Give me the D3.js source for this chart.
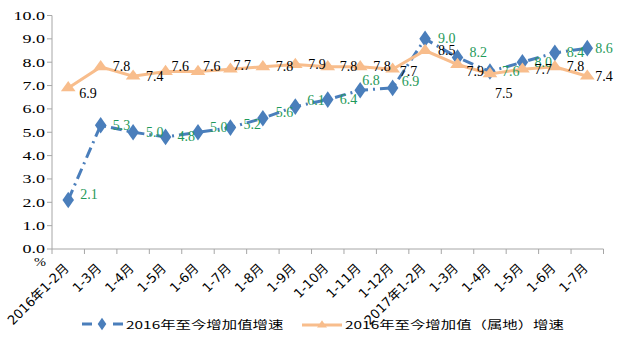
<!DOCTYPE html>
<html><head><meta charset="utf-8">
<script src="https://cdn.jsdelivr.net/npm/d3@7/dist/d3.min.js"></script>
<style>body{margin:0;background:#fff}svg{display:block}</style>
</head><body>
<svg id="c" width="618" height="348"></svg>
<script>
const categories = ["2016年1-2月","1-3月","1-4月","1-5月","1-6月","1-7月","1-8月","1-9月","1-10月","1-11月","1-12月","2017年1-2月","1-3月","1-4月","1-5月","1-6月","1-7月"];
const growth = [2.1,5.3,5.0,4.8,5.0,5.2,5.6,6.1,6.4,6.8,6.9,9.0,8.2,7.6,8.0,8.4,8.6];
const growthLocal = [6.9,7.8,7.4,7.6,7.6,7.7,7.8,7.9,7.8,7.8,7.7,8.5,7.9,7.5,7.7,7.8,7.4];
const yTicks = [0,1,2,3,4,5,6,7,8,9,10];
const seriesNames = ["2016年至今增加值增速","2016年至今增加值（属地）增速"];
// label nudges (layout only)
const nudgeGrowth = [[0,-5],[0,0],[1,0],[0,0],[0,-5],[1,-3],[1,-6],[0,-6],[0,0],[-10,-10],[-3,-6],[1,0],[0,-5],[0,0],[0,0],[0,0],[-4,0]];
const nudgeLocal = [[-1,6],[0,0],[1,0],[-6,-5],[-7,-5],[-9,-4],[1,0],[1,0],[0,0],[1,0],[-5,2],[1,0],[-3,7],[-7,20],[0,0],[0,0],[-4,0]];

const svg = d3.select("#c");
const m = {l:52};
const x = d3.scaleBand().domain(d3.range(categories.length)).range([m.l, 603.5]);
const y = d3.scaleLinear().domain([0,10]).range([249, 15.5]);
const blue = "#4a7ebb", orange = "#f8bd8c", green = "#1f9a5a", axisC = "#a6a6a6";

function stext(g, px, py, str, sx, opts){
  const gg = g.append("g").attr("transform", `translate(${px},${py}) scale(${sx},1)`);
  return gg.append("text").text(str)
    .attr("font-family", opts.font).attr("font-size", opts.size)
    .attr("fill", opts.fill || "#000").attr("text-anchor", opts.anchor || "start")
    .attr("dominant-baseline", "central");
}

// Y axis
const ya = svg.append("g");
ya.append("line").attr("x1", m.l).attr("x2", m.l).attr("y1", y(10)).attr("y2", y(0)).attr("stroke", axisC);
yTicks.forEach(v => {
  ya.append("line").attr("x1", m.l-5).attr("x2", m.l).attr("y1", y(v)).attr("y2", y(v)).attr("stroke", axisC);
  stext(ya, 45, y(v), d3.format(".1f")(v), 1.5, {font:"Liberation Serif", size:12, anchor:"end"});
});
// X axis
const xa = svg.append("g");
xa.append("line").attr("x1", m.l).attr("x2", x.range()[1]).attr("y1", y(0)).attr("y2", y(0)).attr("stroke", axisC);
d3.range(categories.length+1).forEach(i => {
  const xx = m.l + i*x.step();
  xa.append("line").attr("x1", xx).attr("x2", xx).attr("y1", y(0)).attr("y2", y(0)+5).attr("stroke", axisC);
});
categories.forEach((c,i) => {
  const cx = x(i) + x.bandwidth()/2 + 1.5;
  xa.append("text").text(c).attr("transform", `translate(${cx},${269}) rotate(-45)`)
    .attr("text-anchor","end").attr("font-family","DejaVu Sans, Noto Sans CJK SC").attr("font-size",13).attr("fill","#000");
});
stext(svg, 40, 262, "%", 1.2, {font:"Liberation Serif", size:12, anchor:"middle"});

const cxp = i => x(i) + x.bandwidth()/2;
// blue series
const lineG = d3.line().x((d,i)=>cxp(i)).y(d=>y(d));
svg.append("path").attr("d", lineG(growth)).attr("fill","none").attr("stroke", blue)
  .attr("stroke-width", 3).attr("stroke-dasharray","11,5,2,5");
const diamond = d3.symbol().type(d3.symbolDiamond).size(80);
svg.append("g").selectAll("path").data(growth).join("path")
  .attr("d", diamond).attr("transform",(d,i)=>`translate(${cxp(i)},${y(d)}) scale(1.2,1)`).attr("fill", blue);

// orange series
svg.append("path").attr("d", lineG(growthLocal)).attr("fill","none").attr("stroke", orange).attr("stroke-width", 3);
const tri = d3.symbol().type(d3.symbolTriangle).size(60);
svg.append("g").selectAll("path").data(growthLocal).join("path")
  .attr("d", tri).attr("transform",(d,i)=>`translate(${cxp(i)},${y(d)}) scale(1.25,1)`).attr("fill", orange);

// labels
const lg = svg.append("g");
growth.forEach((v,i) => {
  stext(lg, cxp(i)+12+nudgeGrowth[i][0], y(v)+nudgeGrowth[i][1], d3.format(".1f")(v), 1, {font:"Liberation Serif", size:14, fill:green});
});
growthLocal.forEach((v,i) => {
  stext(lg, cxp(i)+12+nudgeLocal[i][0], y(v)+nudgeLocal[i][1], d3.format(".1f")(v), 1, {font:"Liberation Serif", size:14, fill:"#000"});
});

// legend
const leg = svg.append("g");
leg.append("line").attr("x1",82).attr("x2",123).attr("y1",324).attr("y2",324).attr("stroke",blue).attr("stroke-width",3).attr("stroke-dasharray","10,9,3,9");
leg.append("path").attr("d", d3.symbol().type(d3.symbolDiamond).size(45)).attr("transform","translate(102,324) scale(1.2,1)").attr("fill",blue);
stext(leg, 126, 324, seriesNames[0], 1.4, {font:"Noto Sans CJK SC", size:11});
leg.append("line").attr("x1",302).attr("x2",342).attr("y1",325).attr("y2",325).attr("stroke",orange).attr("stroke-width",3);
leg.append("path").attr("d", d3.symbol().type(d3.symbolTriangle).size(30)).attr("transform","translate(322,325) scale(1.2,1)").attr("fill",orange);
stext(leg, 345, 324, seriesNames[1], 1.4, {font:"Noto Sans CJK SC", size:11});
</script>
</body></html>
